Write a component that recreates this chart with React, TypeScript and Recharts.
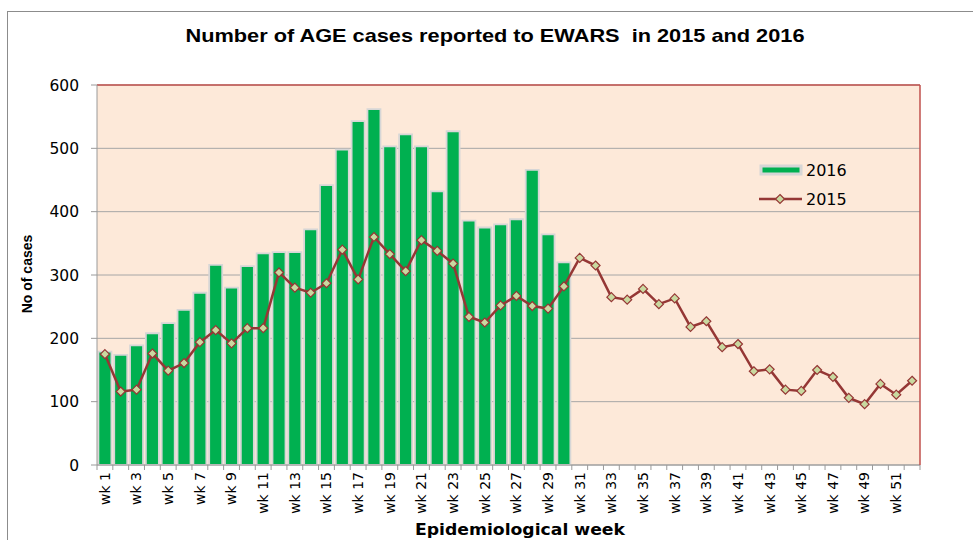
import { ComposedChart, Bar, Line, XAxis, YAxis, CartesianGrid, ReferenceLine, Legend } from 'recharts'

const weeks = Array.from({ length: 52 }, (_, i) => `wk ${i + 1}`)

const cases2016 = [
  179, 174, 189, 208, 224, 245, 272, 316, 280, 314,
  334, 336, 336, 372, 442, 498, 543, 562, 503, 522,
  503, 432, 527, 386, 375, 380, 388, 466, 364, 320,
]

const cases2015 = [
  175, 116, 119, 176, 149, 161, 194, 213, 192, 216,
  216, 304, 280, 272, 287, 340, 293, 360, 333, 306,
  355, 338, 318, 234, 225, 252, 267, 251, 247, 282,
  327, 315, 265, 261, 278, 254, 263, 218, 227, 186,
  191, 148, 151, 119, 117, 150, 139, 106, 96, 128,
  111, 133,
]

const yTicks = [0, 100, 200, 300, 400, 500, 600]

const data = weeks.map((wk, i) => ({
  wk,
  y2016: i < cases2016.length ? cases2016[i] : null,
  y2015: cases2015[i],
}))

const PLOT_W = 920 - 97
const BAND = PLOT_W / weeks.length

function WeekTick(props: any) {
  const { x, y, index, payload } = props
  const bx = x - BAND / 2
  return (
    <g>
      <line x1={bx} y1={y - 7} x2={bx} y2={y - 2} stroke="#9a9a9a" />
      {index === weeks.length - 1 && (
        <line x1={bx + BAND} y1={y - 7} x2={bx + BAND} y2={y - 2} stroke="#9a9a9a" />
      )}
      {index % 2 === 0 && (
        <text
          x={x}
          y={y}
          dy="0.35em"
          transform={`rotate(-90 ${x} ${y})`}
          textAnchor="end"
          fontSize={14}
          fontFamily="'DejaVu Sans', sans-serif"
          fill="#000"
        >
          {payload.value}
        </text>
      )}
    </g>
  )
}

function Diamond(props: any) {
  const { cx, cy } = props
  if (cx == null || cy == null) return null
  return (
    <path
      d={`M${cx},${cy - 4.5} L${cx + 4.5},${cy} L${cx},${cy + 4.5} L${cx - 4.5},${cy} Z`}
      fill="#c9d9a0"
      stroke="#953735"
      strokeWidth={1.2}
    />
  )
}

function LegendBox() {
  return (
    <svg width={110} height={60} style={{ fontFamily: "'DejaVu Sans', sans-serif", display: 'block' }}>
      <rect x={3} y={16} width={40} height={8} fill="#00b050" stroke="#d6d6d6" strokeWidth={3} />
      <text x={48} y={21} fontSize={16} fill="#000" dominantBaseline="middle">2016</text>
      <line x1={1} y1={49} x2={44} y2={49} stroke="#953735" strokeWidth={2.5} />
      <path d="M22,44.5 L26.5,49 L22,53.5 L17.5,49 Z" fill="#c9d9a0" stroke="#953735" strokeWidth={1.2} />
      <text x={48} y={50} fontSize={16} fill="#000" dominantBaseline="middle">2015</text>
    </svg>
  )
}

export default function App() {
  return (
    <div style={{ position: 'absolute', left: 0, top: 0, width: 973, height: 540, background: '#fff', overflow: 'hidden' }}>
      <div style={{ position: 'absolute', left: 7, top: 11, width: 1000, height: 600, border: '1.5px solid #8c8c8c' }} />
      <svg style={{ position: 'absolute', left: 0, top: 0 }} width={973} height={540}>
        <text
          x={495}
          y={37}
          dominantBaseline="middle"
          textAnchor="middle"
          textLength={619}
          lengthAdjust="spacingAndGlyphs"
          fontFamily="'Liberation Sans', Arial, sans-serif"
          fontWeight="bold"
          fontSize={19}
          fill="#000"
        >
          Number of AGE cases reported to EWARS{'\u00a0'} in 2015 and 2016
        </text>
        <text
          x={520}
          y={530}
          dominantBaseline="middle"
          textAnchor="middle"
          textLength={210}
          lengthAdjust="spacingAndGlyphs"
          fontFamily="'DejaVu Sans', sans-serif"
          fontWeight="bold"
          fontSize={16}
          fill="#000"
        >
          Epidemiological week
        </text>
        <text
          x={28}
          y={274}
          dominantBaseline="middle"
          textAnchor="middle"
          transform="rotate(-90 28 274)"
          fontFamily="'Liberation Sans', Arial, sans-serif"
          fontWeight="bold"
          fontSize={14}
          fill="#000"
        >
          No of cases
        </text>
      </svg>
      <div style={{ position: 'absolute', left: 0, top: 0 }}>
        <ComposedChart
          width={973}
          height={540}
          data={data}
          margin={{ top: 85, right: 52, bottom: 0, left: 37 }}
          barCategoryGap={1.4}
        >
          <CartesianGrid horizontal vertical={false} fill="#fde9d9" stroke="#a6a6a6" />
          <XAxis
            dataKey="wk"
            height={75}
            interval={0}
            tickSize={5}
            tickMargin={2}
            tickLine={false}
            tick={<WeekTick />}
            axisLine={{ stroke: '#9a9a9a' }}
          />
          <YAxis
            width={60}
            domain={[0, 600]}
            ticks={yTicks}
            interval={0}
            tickSize={6}
            tickMargin={12}
            tickLine={{ stroke: '#9a9a9a' }}
            axisLine={{ stroke: '#9a9a9a' }}
            tick={{ fontSize: 15.5, fill: '#000', fontFamily: "'DejaVu Sans', sans-serif" }}
          />
          <YAxis
            yAxisId="edge"
            orientation="right"
            width={1}
            domain={[0, 600]}
            tick={false}
            tickLine={false}
            axisLine={{ stroke: '#c0504d', strokeWidth: 1.5 }}
          />
          <ReferenceLine y={600} stroke="#c0504d" strokeWidth={1.5} />
          <Legend
            layout="vertical"
            verticalAlign="middle"
            align="center"
            wrapperStyle={{ position: 'absolute', left: 758, top: 150, width: 110, height: 60 }}
            content={<LegendBox />}
          />
          <Bar
            dataKey="y2016"
            name="2016"
            fill="#00b050"
            stroke="#d6d6d6"
            strokeWidth={1.8}
            isAnimationActive={false}
          />
          <Line
            dataKey="y2015"
            name="2015"
            stroke="#953735"
            strokeWidth={2.5}
            dot={<Diamond />}
            activeDot={false}
            isAnimationActive={false}
          />
        </ComposedChart>
      </div>
    </div>
  )
}
